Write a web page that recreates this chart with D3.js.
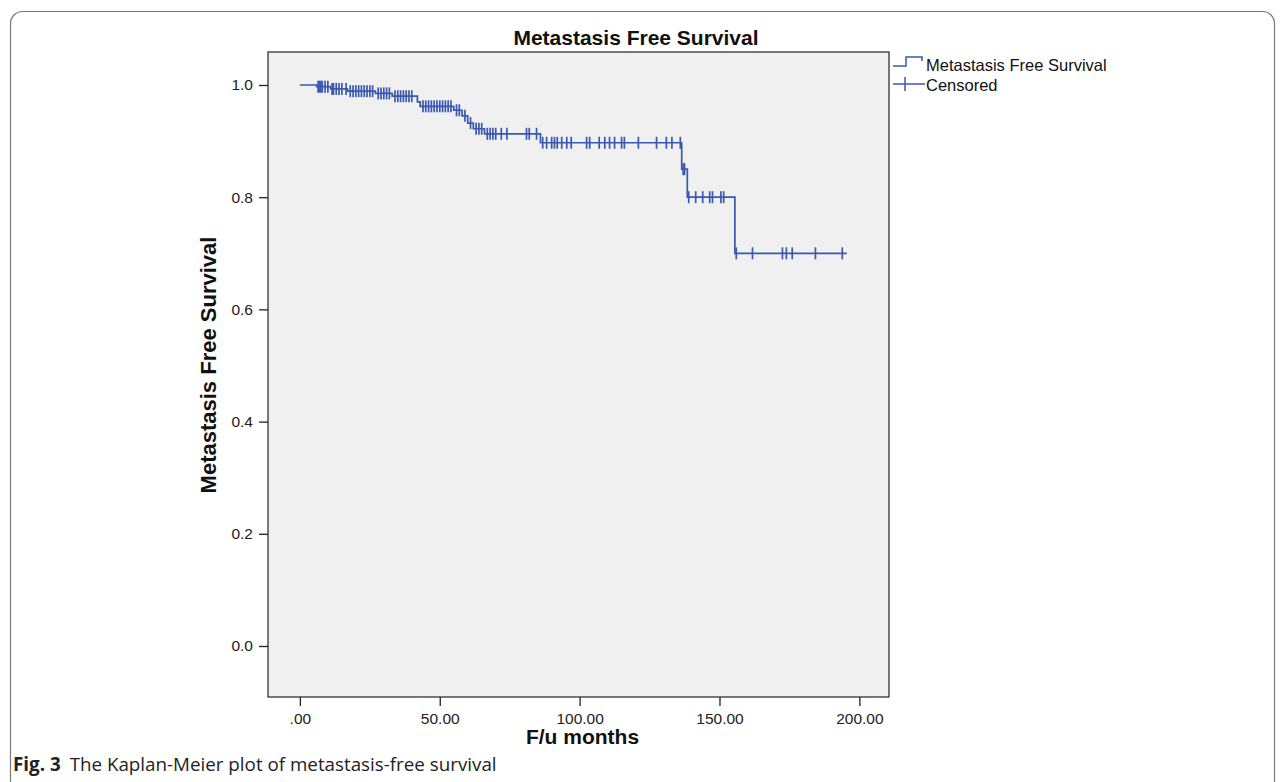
<!DOCTYPE html>
<html>
<head>
<meta charset="utf-8">
<script src="https://cdn.jsdelivr.net/npm/d3@7"></script>
<style>
  body { margin: 0; background: #fff; }
  svg text { font-family: Arial, "Liberation Sans", sans-serif; }
</style>
</head>
<body>
<div id="km-plot"></div>
<script>
// Kaplan-Meier curve, metastasis free survival
const xTicks = [0, 50, 100, 150, 200];
const xTickLabels = [".00", "50.00", "100.00", "150.00", "200.00"];
const yTicks = [0, 0.2, 0.4, 0.6, 0.8, 1.0];
const yTickLabels = ["0.0", "0.2", "0.4", "0.6", "0.8", "1.0"];

// event times (months) and survival just after each event
const eventMonths = [6, 11, 17, 27, 33, 42, 43, 55, 58, 60, 62, 66, 86, 136.5, 138.5, 155.5];
const survivalAfter = [0.997, 0.993, 0.989, 0.985, 0.980, 0.970, 0.962, 0.955, 0.945, 0.932, 0.922, 0.913, 0.897, 0.85, 0.80, 0.70];

// censored follow-up times (months)
const censoredMonths = [
  6.5, 7, 7.5, 8, 9, 10, 11.5, 12, 13, 14, 15, 16.5, 18, 19, 20, 21, 22, 23, 24, 25, 26,
  28, 29, 30, 31, 32, 34, 35, 36, 37, 38, 39, 40,
  44, 45, 46, 47, 48, 49, 50, 51, 52, 53, 54, 56, 57, 59, 61, 63, 64, 65,
  67, 68, 69, 70, 72, 74, 81, 82, 84.6,
  86.8, 88.2, 90, 91, 92, 93.6, 95.4, 97, 102.5, 103.6, 107, 109, 110.7, 112.5, 115, 116,
  121, 127.5, 131, 133, 136, 137, 137.5,
  139, 141.5, 144, 146.5, 147.5, 150.5, 151.5,
  156, 161.8, 172.5, 173.9, 176, 184.3, 193.9
];
const lastFollowUp = 195.5;

const W = 1284, H = 782;
const plot = { left: 268, top: 52, right: 889, bottom: 697 };
const color = "#3a58b0";

const svg = d3.select("#km-plot").append("svg")
  .attr("width", W).attr("height", H);

// outer figure frame
svg.append("rect")
  .attr("x", 10.5).attr("y", 11.5)
  .attr("width", 1264).attr("height", 790)
  .attr("rx", 12)
  .attr("fill", "none").attr("stroke", "#777").attr("stroke-width", 1.2);

const x = d3.scaleLinear().domain([-11.4, 210.6]).range([plot.left, plot.right]);
const y = d3.scaleLinear().domain([-0.0909, 1.0588]).range([plot.bottom, plot.top]);

// plot background
svg.append("rect")
  .attr("x", plot.left).attr("y", plot.top)
  .attr("width", plot.right - plot.left).attr("height", plot.bottom - plot.top)
  .attr("fill", "#f0f0f0").attr("stroke", "#222").attr("stroke-width", 1.2);

// axes
const xAxis = svg.append("g")
  .attr("transform", `translate(0,${plot.bottom})`)
  .call(d3.axisBottom(x).tickValues(xTicks).tickSize(9).tickPadding(7)
    .tickFormat((d, i) => xTickLabels[i]));
const yAxis = svg.append("g")
  .attr("transform", `translate(${plot.left},0)`)
  .call(d3.axisLeft(y).tickValues(yTicks).tickSize(9).tickPadding(6)
    .tickFormat((d, i) => yTickLabels[i]));

[xAxis, yAxis].forEach(g => {
  g.select(".domain").remove();
  g.selectAll(".tick line").attr("stroke", "#222").attr("stroke-width", 1.3);
  g.selectAll(".tick text").attr("fill", "#222").style("font-size", "15.5px")
    .style("font-family", "Arial, 'Liberation Sans', sans-serif");
});

// step curve
const pts = [[0, 1]].concat(eventMonths.map((t, i) => [t, survivalAfter[i]]));
pts.push([lastFollowUp, survivalAfter[survivalAfter.length - 1]]);

const line = d3.line()
  .x(d => x(d[0]))
  .y(d => y(d[1]))
  .curve(d3.curveStepAfter);

svg.append("path")
  .datum(pts)
  .attr("d", line)
  .attr("fill", "none")
  .attr("stroke", color)
  .attr("stroke-width", 1.7);

function survivalAt(t) {
  let s = 1;
  eventMonths.forEach((e, i) => { if (e <= t) s = survivalAfter[i]; });
  return s;
}

// censor marks
svg.append("g").selectAll("line")
  .data(censoredMonths)
  .enter()
  .append("line")
  .attr("x1", d => x(d)).attr("x2", d => x(d))
  .attr("y1", d => y(survivalAt(d)) - 6)
  .attr("y2", d => y(survivalAt(d)) + 6)
  .attr("stroke", color)
  .attr("stroke-width", 1.7);

// title
svg.append("text")
  .attr("x", 636)
  .attr("y", 45)
  .attr("text-anchor", "middle")
  .style("font-size", "21px")
  .style("font-weight", "bold")
  .attr("fill", "#111")
  .text("Metastasis Free Survival");

// axis titles
svg.append("text")
  .attr("x", (plot.left + plot.right) / 2 + 4)
  .attr("y", 744)
  .attr("text-anchor", "middle")
  .style("font-size", "21px")
  .style("font-weight", "bold")
  .attr("fill", "#111")
  .text("F/u months");

svg.append("text")
  .attr("transform", "rotate(-90)")
  .attr("x", -365)
  .attr("y", 216)
  .attr("text-anchor", "middle")
  .style("font-size", "22px")
  .style("font-weight", "bold")
  .attr("fill", "#111")
  .text("Metastasis Free Survival");

// legend
const lg = svg.append("g");
lg.append("path")
  .attr("d", "M893,66H906V57H922V61")
  .attr("fill", "none").attr("stroke", color).attr("stroke-width", 1.5);
lg.append("line")
  .attr("x1", 893).attr("x2", 925).attr("y1", 84).attr("y2", 84)
  .attr("stroke", color).attr("stroke-width", 1.5);
lg.append("line")
  .attr("x1", 905).attr("x2", 905).attr("y1", 77).attr("y2", 91)
  .attr("stroke", color).attr("stroke-width", 1.5);
lg.append("text")
  .attr("x", 926).attr("y", 71)
  .style("font-size", "16.5px").attr("fill", "#111")
  .text("Metastasis Free Survival");
lg.append("text")
  .attr("x", 926).attr("y", 91)
  .style("font-size", "16.5px").attr("fill", "#111")
  .text("Censored");

// caption
const cap = svg.append("text")
  .attr("x", 13).attr("y", 771)
  .style("font-family", "'Open Sans', 'Noto Sans', sans-serif")
  .style("font-size", "18.8px")
  .attr("fill", "#222");
cap.append("tspan").style("font-weight", "bold").text("Fig. 3");
cap.append("tspan").attr("dx", 9).text("The Kaplan-Meier plot of metastasis-free survival");
</script>
</body>
</html>
